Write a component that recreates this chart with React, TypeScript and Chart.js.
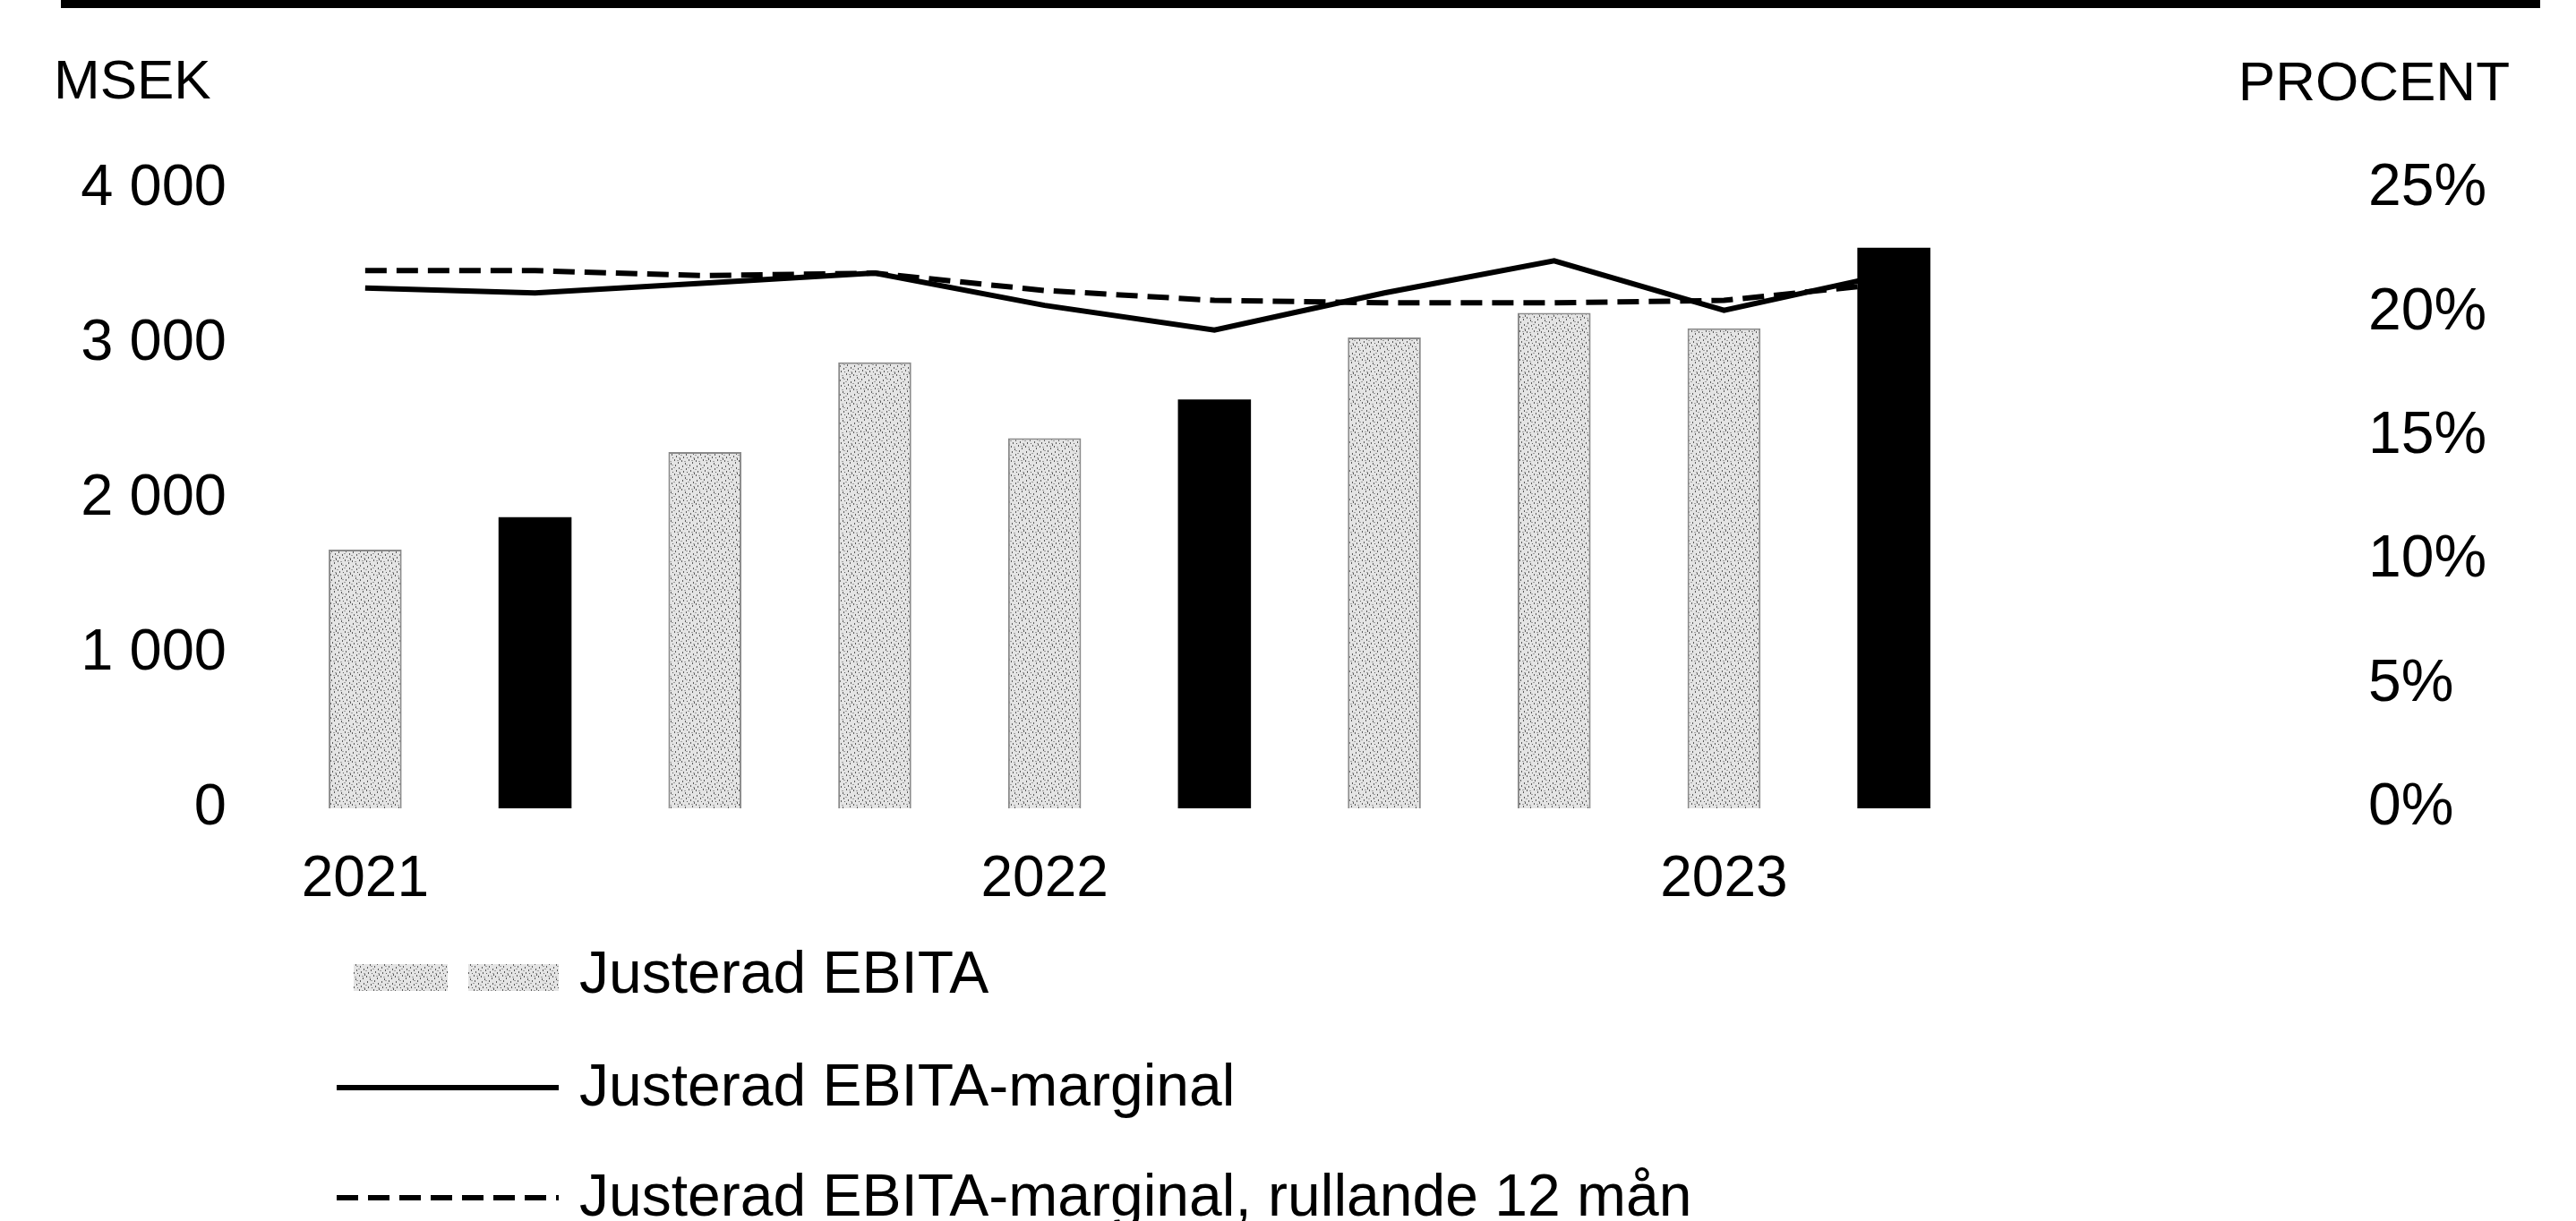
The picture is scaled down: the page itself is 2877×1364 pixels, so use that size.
import React, { useEffect, useRef } from 'react';
import { Chart, registerables } from 'chart.js';

Chart.register(...registerables);

// ---------- DATA ----------
const quarters = ['Q1 2021', 'Q2 2021', 'Q3 2021', 'Q4 2021', 'Q1 2022', 'Q2 2022', 'Q3 2022', 'Q4 2022', 'Q1 2023', 'Q2 2023'];
const xTickLabels = ['2021', '', '', '', '2022', '', '', '', '2023', ''];
const ebita = [1670, 1880, 2300, 2880, 2390, 2640, 3040, 3200, 3100, 3620];
const ebitaMargin = [21.0, 20.8, 21.2, 21.6, 20.3, 19.3, 20.8, 22.1, 20.1, 21.6];
const ebitaMarginR12 = [21.7, 21.7, 21.5, 21.6, 20.9, 20.5, 20.4, 20.4, 20.5, 21.2];
const highlighted = [false, true, false, false, false, true, false, false, false, true];
const legendLabels = ['Justerad EBITA', 'Justerad EBITA-marginal', 'Justerad EBITA-marginal, rullande 12 mån'];
const leftAxisTitle = 'MSEK';
const rightAxisTitle = 'PROCENT';
const leftMax = 4000;
const leftStep = 1000;
const rightMax = 25;
const rightStep = 5;

const FONT = '"Liberation Sans", Arial, Helvetica, sans-serif';

function fmtThousands(v: number): string {
  return String(v).replace(/\B(?=(\d{3})+(?!\d))/g, ' ');
}

export default function App() {
  const ref = useRef<HTMLCanvasElement>(null);

  useEffect(() => {
    document.body.style.margin = '0';
    const canvas = ref.current!;
    const ctx = canvas.getContext('2d')!;

    // stipple pattern for the grey bars (fixed speckle layout)
    const pc = document.createElement('canvas');
    pc.width = 16;
    pc.height = 16;
    const p = pc.getContext('2d')!;
    p.fillStyle = '#e4e4e4';
    p.fillRect(0, 0, 16, 16);
    p.fillStyle = '#5a5a5a';
    const specks = [[1, 1], [9, 2], [5, 4], [13, 5], [2, 7], [10, 8], [6, 10], [14, 11], [3, 13], [11, 14], [7, 0], [15, 15]];
    specks.forEach(([x, y]) => p.fillRect(x, y, 1, 2));
    p.fillStyle = '#a0a0a0';
    const light = [[4, 2], [12, 3], [0, 10], [8, 12], [14, 7], [6, 15]];
    light.forEach(([x, y]) => p.fillRect(x, y, 2, 1));
    const pattern = ctx.createPattern(pc, 'repeat')!;

    const decor = {
      id: 'decor',
      beforeDraw(chart: any) {
        const c = chart.ctx;
        c.save();
        c.fillStyle = '#000';
        c.fillRect(68, 0, 2769, 9);
        c.restore();
      },
      afterDraw(chart: any) {
        const c = chart.ctx;
        c.save();
        c.fillStyle = '#000';
        c.textBaseline = 'alphabetic';
        c.font = `62px ${FONT}`;
        c.textAlign = 'left';
        c.fillText(leftAxisTitle, 60, 110);
        c.textAlign = 'right';
        c.fillText(rightAxisTitle, 2803, 112);

        // legend
        c.textAlign = 'left';
        c.font = `66px ${FONT}`;
        // bar swatch
        c.fillStyle = pattern;
        c.fillRect(395, 1077, 105, 30);
        c.fillRect(523, 1077, 101, 30);
        c.fillStyle = '#000';
        c.fillText(legendLabels[0], 647, 1109);
        // solid line swatch
        c.strokeStyle = '#000';
        c.lineWidth = 6;
        c.setLineDash([]);
        c.beginPath();
        c.moveTo(376, 1215);
        c.lineTo(624, 1215);
        c.stroke();
        c.fillText(legendLabels[1], 647, 1235);
        // dashed swatch
        c.setLineDash([24, 11]);
        c.beginPath();
        c.moveTo(376, 1338);
        c.lineTo(624, 1338);
        c.stroke();
        c.setLineDash([]);
        c.fillText(legendLabels[2], 647, 1358);
        c.restore();
      },
    };

    const chart = new Chart(ctx, {
      type: 'bar',
      data: {
        labels: quarters,
        datasets: [
          {
            type: 'bar',
            label: legendLabels[0],
            data: ebita,
            yAxisID: 'y',
            backgroundColor: highlighted.map((h) => (h ? '#000000' : pattern)) as any,
            borderColor: highlighted.map((h) => (h ? '#000000' : '#8a8a8a')),
            borderWidth: highlighted.map((h) => (h ? 0 : 2)) as any,
            barPercentage: 0.43,
            categoryPercentage: 1,
            order: 0,
          },
          {
            type: 'line',
            label: legendLabels[1],
            data: ebitaMargin,
            yAxisID: 'y1',
            borderColor: '#000',
            backgroundColor: '#000',
            borderWidth: 6,
            pointRadius: 0,
            tension: 0,
            order: 1,
          },
          {
            type: 'line',
            label: legendLabels[2],
            data: ebitaMarginR12,
            yAxisID: 'y1',
            borderColor: '#000',
            backgroundColor: '#000',
            borderWidth: 6,
            borderDash: [24, 11],
            pointRadius: 0,
            tension: 0,
            order: 2,
          },
        ],
      },
      options: {
        responsive: false,
        animation: false,
        devicePixelRatio: 1,
        layout: { padding: { top: 211, left: 0, right: 0, bottom: 0 } },
        plugins: {
          legend: { display: false },
          tooltip: { enabled: false },
          title: { display: false },
        },
        scales: {
          x: {
            type: 'category',
            offset: true,
            grid: { display: false, drawTicks: false, tickLength: 0 },
            border: { display: false },
            ticks: {
              autoSkip: false,
              maxRotation: 0,
              minRotation: 0,
              padding: 42,
              color: '#000',
              font: { family: FONT, size: 64 },
              callback: (_v: any, i: number) => xTickLabels[i],
            },
            afterFit: (s: any) => {
              s.height = 1364 - 903;
              s.paddingLeft = 0;
              s.paddingRight = 0;
            },
          },
          y: {
            position: 'left',
            min: 0,
            max: leftMax,
            grid: { display: false, drawTicks: false, tickLength: 0 },
            border: { display: false },
            ticks: {
              stepSize: leftStep,
              padding: 60,
              color: '#000',
              font: { family: FONT, size: 65 },
              callback: (v: any) => fmtThousands(Number(v)),
            },
            afterFit: (s: any) => {
              s.width = 313;
              s.paddingTop = 0;
              s.paddingBottom = 0;
            },
          },
          y1: {
            position: 'right',
            min: 0,
            max: rightMax,
            grid: { display: false, drawTicks: false, tickLength: 0 },
            border: { display: false },
            ticks: {
              stepSize: rightStep,
              padding: 435,
              color: '#000',
              font: { family: FONT, size: 66 },
              callback: (v: any) => `${v}%`,
            },
            afterFit: (s: any) => {
              s.width = 2877 - 2210;
              s.paddingTop = 0;
              s.paddingBottom = 0;
            },
          },
        },
      } as any,
      plugins: [decor],
    });

    return () => {
      chart.destroy();
    };
  }, []);

  return <canvas ref={ref} width={2877} height={1364} style={{ display: 'block' }} />;
}
